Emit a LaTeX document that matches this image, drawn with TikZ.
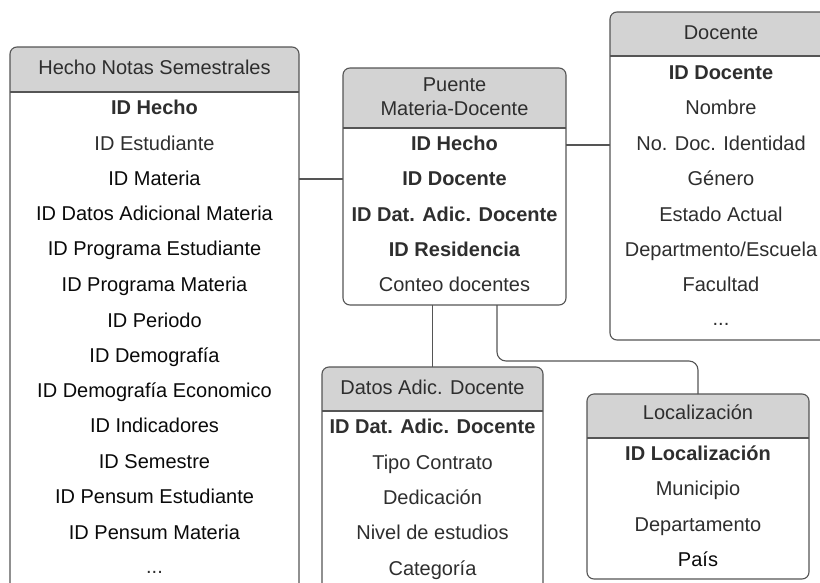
\documentclass[tikz,border=0pt]{standalone}
\usepackage{fontspec}
\setmainfont{Liberation Sans}
\usetikzlibrary{fit}
\definecolor{headfill}{HTML}{D3D3D3}
\definecolor{bordercol}{HTML}{555555}
\definecolor{txtdark}{HTML}{0A0A0A}
\definecolor{txtgray}{HTML}{2E2E2E}
\tikzset{
  tblbody/.style={inner sep=0pt, outer sep=0pt},
  tblline/.style={draw=bordercol, line width=1.1pt, rounded corners=7pt},
  rowtxt/.style={font=\fontsize{20}{24}\selectfont, text=txtdark, inner sep=0pt, text height=14.3pt, text depth=0pt},
  graytxt/.style={rowtxt, text=txtgray},
  keytxt/.style={rowtxt, font=\fontsize{20}{24}\selectfont\bfseries, text=txtgray},
  conn/.style={draw=bordercol, line width=1.1pt}
}
% name, left, top, right, bottom, header bottom
\newcommand\mktable[6]{%
  \path (#2,#3) coordinate (#1-nw) (#4,#5) coordinate (#1-se);
  \node[tblbody, fit=(#1-nw)(#1-se)] (#1) {};
  \begin{scope}
    \clip (#2,#3) rectangle (#4,#6);
    \fill[headfill, rounded corners=7pt] (#2,#3) rectangle (#4,#5);
  \end{scope}
  \draw[tblline] (#1.north west) rectangle (#1.south east);
  \draw[conn] (#1.west |- 0,#6) -- (#1.east |- 0,#6);
}
\begin{document}
\begin{tikzpicture}[x=1pt, y=-1pt]
\useasboundingbox (0,0) rectangle (820,582);
\fill[white] (0,0) rectangle (820,582);
\clip (0,0) rectangle (820,582);

% Hecho Notas Semestrales
\mktable{hecho}{10}{47}{299}{640}{92}
\node[graytxt] (hechoT) at (154.5,67) {Hecho Notas Semestrales};
\node[keytxt]  (h1)  at (154.5,107) {ID Hecho};
\node[graytxt] (h2)  at (154.5,143) {ID Estudiante};
\node[rowtxt]  (h3)  at (154.5,178) {ID Materia};
\node[rowtxt]  (h4)  at (154.5,213) {ID Datos Adicional Materia};
\node[rowtxt]  (h5)  at (154.5,248) {ID Programa Estudiante};
\node[rowtxt]  (h6)  at (154.5,284) {ID Programa Materia};
\node[rowtxt]  (h7)  at (154.5,320) {ID Periodo};
\node[rowtxt]  (h8)  at (154.5,355) {ID Demografía};
\node[rowtxt]  (h9)  at (154.5,390) {ID Demografía Economico};
\node[rowtxt]  (h10) at (154.5,425) {ID Indicadores};
\node[rowtxt]  (h11) at (154.5,461) {ID Semestre};
\node[rowtxt]  (h12) at (154.5,496) {ID Pensum Estudiante};
\node[rowtxt]  (h13) at (154.5,532) {ID Pensum Materia};
\node[graytxt] (h14) at (154.5,566) {...};

% Puente Materia-Docente
\mktable{puente}{343}{68}{566}{305}{128}
\node[graytxt] (puenteT1) at (454.5,84) {Puente};
\node[graytxt] (puenteT2) at (454.5,108) {Materia-Docente};
\node[keytxt]  (p1) at (454.5,143) {ID Hecho};
\node[keytxt]  (p2) at (454.5,178) {ID Docente};
\node[keytxt]  (p3) at (454.5,214) {ID Dat. Adic. Docente};
\node[keytxt]  (p4) at (454.5,249) {ID Residencia};
\node[graytxt] (p5) at (454.5,284) {Conteo docentes};

% Docente
\mktable{docente}{610}{12}{832}{340}{56}
\node[graytxt] (docenteT) at (721,32) {Docente};
\node[keytxt]  (d1) at (721,72) {ID Docente};
\node[graytxt] (d2) at (721,107) {Nombre};
\node[graytxt] (d3) at (721,143) {No. Doc. Identidad};
\node[graytxt] (d4) at (721,178) {Género};
\node[graytxt] (d5) at (721,214) {Estado Actual};
\node[graytxt] (d6) at (721,249) {Departmento/Escuela};
\node[graytxt] (d7) at (721,284) {Facultad};
\node[graytxt] (d8) at (721,318) {...};

% Datos Adic. Docente
\mktable{datos}{322}{367}{543}{640}{411}
\node[graytxt] (datosT) at (432.5,387) {Datos Adic. Docente};
\node[keytxt]  (a1) at (432.5,426) {ID Dat. Adic. Docente};
\node[graytxt] (a2) at (432.5,462) {Tipo Contrato};
\node[graytxt] (a3) at (432.5,497) {Dedicación};
\node[graytxt] (a4) at (432.5,532) {Nivel de estudios};
\node[graytxt] (a5) at (432.5,568) {Categoría};

% Localizacion
\mktable{loc}{587}{394}{809}{579}{438}
\node[graytxt] (locT) at (698,412) {Localización};
\node[keytxt]  (l1) at (698,453) {ID Localización};
\node[graytxt] (l2) at (698,488) {Municipio};
\node[graytxt] (l3) at (698,524) {Departamento};
\node[rowtxt]  (l4) at (698,559) {País};

% Connectors
\draw[conn] (hecho.east |- 0,179) -- (puente.west |- 0,179);
\draw[conn] (puente.east |- 0,145) -- (docente.west |- 0,145);
\draw[conn] (puente.south -| datos.north) -- (datos.north);
\draw[conn, rounded corners=9pt] (puente.south -| 497,0) -- (497,361) -- (loc.north |- 0,361) -- (loc.north);
\end{tikzpicture}
\end{document}
